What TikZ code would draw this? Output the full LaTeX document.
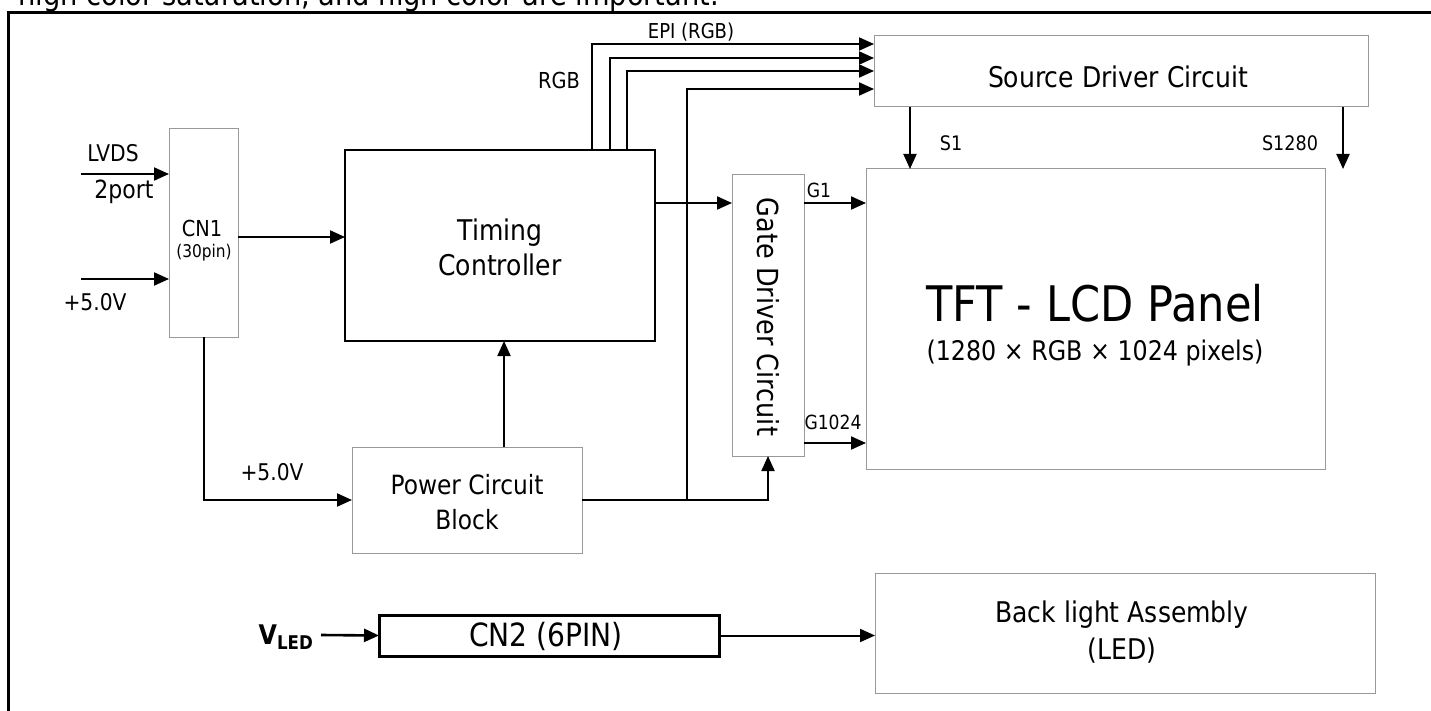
\documentclass[tikz,border=0pt]{standalone}
\usepackage{fontspec}
\setmainfont{DejaVu Sans}[FakeStretch=0.88]
\usetikzlibrary{arrows.meta,calc}
\begin{document}
\begin{tikzpicture}[x=1pt,y=-1pt,
  conn/.style={line width=2pt},
  arr/.style={conn,-{Triangle[length=15pt,width=13pt]}},
  graybox/.style={draw=black!40,line width=1pt,anchor=north west,inner sep=0pt,outer sep=0pt},
  blackbox/.style={draw=black,line width=2.2pt,anchor=north west,inner sep=0pt,outer sep=0pt},
  fs/.style={inner sep=0pt,font=\fontsize{#1}{#1}\selectfont},
  twoline/.style n args={2}{inner sep=0pt,align=center,font=\fontsize{#1}{#2}\selectfont}]
\useasboundingbox (0,0) rectangle (1431,711);
\clip (0,0) rectangle (1431,711);

% frame
\draw[line width=3pt] (8,711) -- (8,13) -- (1431,13);
\node[anchor=base west,inner sep=0pt,font=\fontsize{31}{33}\selectfont] (toptxt) at (18,6) {high color saturation, and high color are important.};

% boxes
\node[graybox,minimum width=69pt,minimum height=208pt] (cn1) at (169,129) {};
\node[blackbox,minimum width=310pt,minimum height=191pt] (tc) at (345,150) {};
\node[graybox,minimum width=494pt,minimum height=71pt] (sd) at (874,36) {};
\node[graybox,minimum width=72pt,minimum height=281pt] (gd) at (732,175) {};
\node[graybox,minimum width=459pt,minimum height=300pt] (tft) at (866,169) {};
\node[graybox,minimum width=230pt,minimum height=106pt] (pc) at (352,447) {};
\node[draw=black,line width=3pt,anchor=north west,inner sep=0pt,outer sep=0pt,minimum width=340pt,minimum height=41pt] (cn2) at (379,615) {};
\node[graybox,minimum width=500pt,minimum height=120pt] (bl) at (875,573) {};

% texts
\node[fs=23] (tlvds) at (113,153) {LVDS};
\node[fs=25] (t2port) at (124,192) {2port};
\node[fs=23] (t5va) at (95,302) {+5.0V};
\node[fs=22] (tcn1) at (202,228) {CN1};
\node[fs=17.5] (t30pin) at (204,253) {(30pin)};
\node[twoline={28.5}{35}] (ttc) at (500,247) {Timing\\Controller};
\node[fs=20.5] (tepi) at (691,32) {EPI (RGB)};
\node[fs=22] (trgb) at (559,80) {RGB};
\node[fs=28.5] (tsd) at (1118,77) {Source Driver Circuit};
\node[fs=20] (ts1) at (951,143) {S1};
\node[fs=20] (ts1280) at (1290,143) {S1280};
\node[fs=19.5] (tg1) at (819,190) {G1};
\node[fs=19.5] (tg1024) at (833,422) {G1024};
\node[fs=29,rotate=-90] (tgd) at (768,317) {Gate Driver Circuit};
\node[fs=49] (ttft) at (1095,303) {TFT - LCD Panel};
\node[fs=27] (tpix) at (1095,353) {(1280 × RGB × 1024 pixels)};
\node[fs=23] (t5vb) at (272,472) {+5.0V};
\node[twoline={26.5}{35}] (tpc) at (467,502) {Power Circuit\\Block};
\node[inner sep=0pt,font=\bfseries\fontsize{27}{27}\selectfont] (tvled) at (286,637) {V\textsubscript{LED}};
\node[fs=32] (tcn2) at (546,636) {CN2 (6PIN)};
\node[twoline={28.5}{37}] (tbl) at (1122,632) {Back light Assembly\\(LED)};

% free ends
\coordinate (lvdsin) at (81,174);
\coordinate (vin) at (81,279);
\coordinate (vledin) at (321,635);

% connectors
\draw[arr] (lvdsin) -- (cn1.west |- lvdsin);
\draw[arr] (vin) -- (cn1.west |- vin);
\draw[arr] (cn1.east |- 0,237) -- (tc.west |- 0,237);
\draw[arr] (cn1.south) |- (pc.west);
\draw[arr] (pc.north -| 504,0) -- (tc.south -| 504,0);
\draw[arr] (pc.east) -| (gd.south);
\draw[arr] (pc.east -| 687,0) |- (sd.west |- 0,89);
\draw[arr] (tc.north -| 592,0) |- (sd.west |- 0,44);
\draw[arr] (tc.north -| 610,0) |- (sd.west |- 0,58);
\draw[arr] (tc.north -| 627,0) |- (sd.west |- 0,71);
\draw[arr] (tc.east |- 0,203) -- (gd.west |- 0,203);
\draw[arr] (gd.east |- 0,203) -- (tft.west |- 0,203);
\draw[arr] (gd.east |- 0,443) -- (tft.west |- 0,443);
\draw[arr] (sd.south -| 910,0) -- (tft.north -| 910,0);
\draw[arr] (sd.south -| 1343,0) -- (tft.north -| 1343,0);
\draw[arr,line width=2.6pt] (vledin) -- (cn2.west);
\draw[arr] (cn2.east) -- (bl.west |- cn2.east);
\end{tikzpicture}
\end{document}
